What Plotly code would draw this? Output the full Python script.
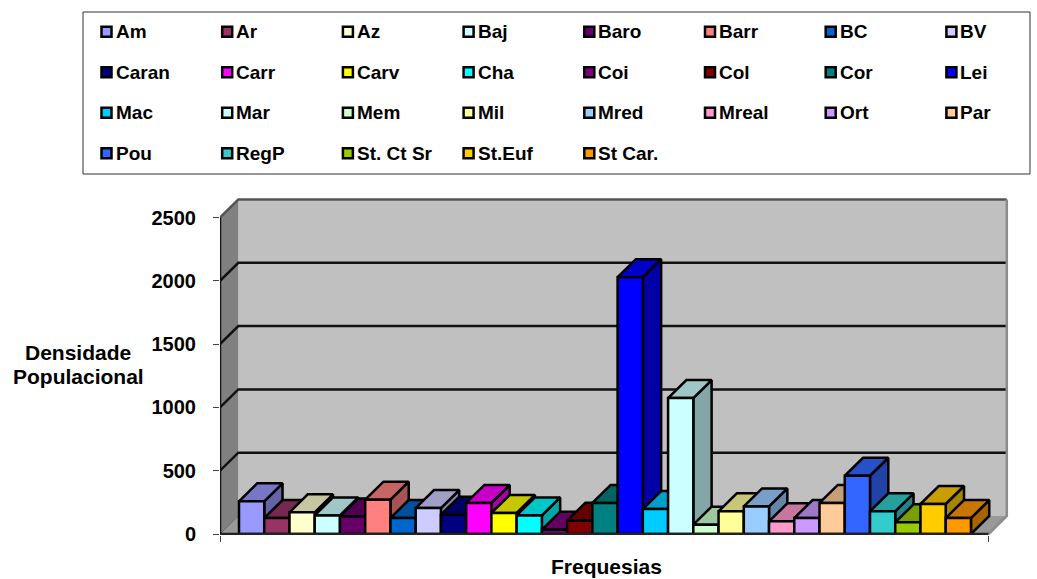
import plotly.graph_objects as go

# Population density per parish
parishes = ["Am", "Ar", "Az", "Baj", "Baro", "Barr", "BC", "BV",
            "Caran", "Carr", "Carv", "Cha", "Coi", "Col", "Cor", "Lei",
            "Mac", "Mar", "Mem", "Mil", "Mred", "Mreal", "Ort", "Par",
            "Pou", "RegP", "St. Ct Sr", "St.Euf", "St Car."]
density = [258, 126, 171, 147, 139, 271, 126, 205,
           153, 245, 166, 147, 34, 105, 245, 2029,
           197, 1074, 74, 179, 218, 100, 126, 245,
           460, 179, 92, 237, 126]
bar_colors = ["#9999FF", "#993366", "#FFFFCC", "#CCFFFF", "#660066", "#FF8080", "#0066CC", "#CCCCFF",
              "#000080", "#FF00FF", "#FFFF00", "#00FFFF", "#800080", "#800000", "#008080", "#0000FF",
              "#00CCFF", "#CCFFFF", "#CCFFCC", "#FFFF99", "#99CCFF", "#FF99CC", "#CC99FF", "#FFCC99",
              "#3366FF", "#33CCCC", "#99CC00", "#FFCC00", "#FF9900"]
y_ticks = [0, 500, 1000, 1500, 2000, 2500]

# Plot area in pixels and the oblique projection used for the depth of the box
WIDTH, HEIGHT = 1037, 579
LEFT, RIGHT, TOP, BOTTOM = 220, 1010, 195, 535
BAR_PX = 25.24
X0_PX = 239            # left edge of the first bar
Y_PER_PX = 1 / 0.1266
DX = 18.3 / BAR_PX     # depth offset along the category axis
DY = 18 * Y_PER_PX     # depth offset along the value axis
BOX_L = (LEFT - X0_PX) / BAR_PX - 0.5
BOX_R = (988.5 - X0_PX) / BAR_PX - 0.5
Y_MAX = 2500


def font(size):
    return dict(family="Liberation Sans, Arial, sans-serif", size=size, color="black", weight=700)


def shade(color, k):
    r, g, b = (int(color[i:i + 2], 16) for i in (1, 3, 5))
    return f"rgb({r * k:.0f},{g * k:.0f},{b * k:.0f})"


def poly(xs, ys, fill, line="black", width=2.5, name=None):
    return go.Scatter(x=xs + xs[:1], y=ys + ys[:1], mode="lines", fill="toself", fillcolor=fill,
                      line=dict(color=line, width=width), showlegend=False,
                      name=name, hoverinfo="name" if name else "skip")


def seg(xs, ys, color="#111111", width=2.5):
    return go.Scatter(x=xs, y=ys, mode="lines", line=dict(color=color, width=width),
                      showlegend=False, hoverinfo="skip")


fig = go.Figure()

# Box: back wall, side wall and floor
fig.add_trace(poly([BOX_L + DX, BOX_R + DX, BOX_R + DX, BOX_L + DX], [DY, DY, Y_MAX + DY, Y_MAX + DY],
                   "#C0C0C0", "rgba(0,0,0,0)", 0))
fig.add_trace(poly([BOX_L, BOX_L + DX, BOX_L + DX, BOX_L], [0, DY, Y_MAX + DY, Y_MAX],
                   "#808080", "rgba(0,0,0,0)", 0))
fig.add_trace(poly([BOX_L, BOX_R, BOX_R + DX, BOX_L + DX], [0, 0, DY, DY],
                   "#999999", "rgba(0,0,0,0)", 0))

# Gridlines run along the side wall and across the back wall
for v in y_ticks[1:-1]:
    fig.add_trace(seg([BOX_L, BOX_L + DX, BOX_R + DX], [v, v + DY, v + DY]))
fig.add_trace(seg([BOX_L, BOX_L + DX, BOX_R + DX], [Y_MAX, Y_MAX + DY, Y_MAX + DY], "#555555"))
fig.add_trace(seg([BOX_R + DX, BOX_R + DX, BOX_R], [Y_MAX + DY, DY, 0], "#8C8C8C"))
fig.add_trace(seg([BOX_L, BOX_L + DX], [0, DY], "#666666", 1))

# Bars, painted left to right so each one covers the side of its neighbour
for i, (name, value, color) in enumerate(zip(parishes, density, bar_colors)):
    x1, x2 = i - 0.5, i + 0.5
    fig.add_trace(poly([x2, x2 + DX, x2 + DX, x2], [0, DY, value + DY, value], shade(color, 0.65)))
    fig.add_trace(poly([x1, x2, x2 + DX, x1 + DX], [value, value, value + DY, value + DY], shade(color, 0.78)))
    fig.add_trace(poly([x1, x2, x2, x1], [0, 0, value, value], color, name=f"{name}: {value}"))

# Front axis lines
fig.add_trace(seg([BOX_L, BOX_L], [0, Y_MAX], "#111111", 2.5))
fig.add_trace(seg([BOX_L, BOX_R], [0, 0], "#222222", 2.5))


def px(x):
    return (x - LEFT) / (RIGHT - LEFT)


def py(y):
    return (BOTTOM - y) / (BOTTOM - TOP)


shapes = [dict(type="rect", xref="paper", yref="paper", x0=px(83), x1=px(1030), y0=py(174), y1=py(12),
               line=dict(color="#303030", width=1), fillcolor="white", layer="below")]
annotations = []

# Legend: eight columns, four rows
for i, (name, color) in enumerate(zip(parishes, bar_colors)):
    row, col = divmod(i, 8)
    cx = 106.5 + col * 120.7
    cy = 31.7 + row * 40.5
    shapes.append(dict(type="rect", xref="paper", yref="paper", x0=px(cx - 5), x1=px(cx + 5),
                       y0=py(cy + 5), y1=py(cy - 5), fillcolor=color,
                       line=dict(color="black", width=2.5), layer="above"))
    annotations.append(dict(text=name, xref="paper", yref="paper", x=px(cx + 7), y=py(cy),
                            xanchor="left", yanchor="middle", showarrow=False, font=font(19)))

# Axis titles
for text, x, y in [("Densidade", 78, 352), ("Populacional", 78, 376), ("Frequesias", 606, 566)]:
    annotations.append(dict(text=text, xref="paper", yref="paper", x=px(x), y=py(y),
                            xanchor="center", yanchor="middle", showarrow=False, font=font(21)))

fig.update_layout(
    width=WIDTH, height=HEIGHT,
    margin=dict(l=LEFT, r=WIDTH - RIGHT, t=TOP, b=HEIGHT - BOTTOM, autoexpand=False),
    paper_bgcolor="white", plot_bgcolor="white",
    showlegend=False, shapes=shapes, annotations=annotations,
    font=font(18),
    xaxis=dict(range=[BOX_L, (RIGHT - X0_PX) / BAR_PX - 0.5], tickvals=[BOX_L, BOX_R], ticktext=["", ""],
               ticks="outside", ticklen=6, tickwidth=1, tickcolor="#444444",
               showgrid=False, zeroline=False, showline=False, fixedrange=True),
    yaxis=dict(range=[-1 * Y_PER_PX, (BOTTOM - 1 - TOP) * Y_PER_PX], tickvals=y_ticks,
               ticks="outside", ticklen=6, tickwidth=1, tickcolor="#444444", tickfont=font(20),
               ticklabelstandoff=13,
               showgrid=False, zeroline=False, showline=False, fixedrange=True),
)

fig.write_html("out.html", config=dict(displayModeBar=False))
